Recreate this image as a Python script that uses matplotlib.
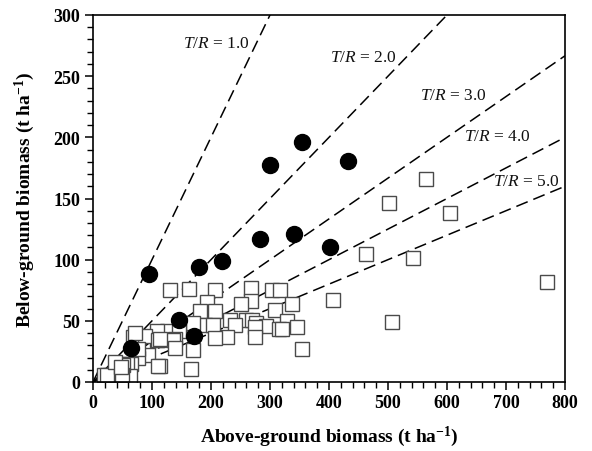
import matplotlib
matplotlib.use("Agg")
import matplotlib.pyplot as plt
import numpy as np
from matplotlib.ticker import MultipleLocator

plt.rcParams['font.family'] = ['Liberation Serif', 'DejaVu Serif']
plt.rcParams['mathtext.fontset'] = 'custom'
plt.rcParams['mathtext.rm'] = 'Liberation Serif'
plt.rcParams['mathtext.it'] = 'Liberation Serif:italic'
plt.rcParams['mathtext.bf'] = 'Liberation Serif:bold'

# Filled circles (above-ground, below-ground biomass)
circle_x = [65, 95, 145, 171, 180, 219, 283, 300, 340, 355, 402, 432]
circle_y = [28, 88, 51, 38, 94, 99, 117, 177, 121, 196, 110, 181]

# Open squares
square_x = [565, 502, 605, 463, 542, 406, 507, 770, 355,
            131, 163, 207, 267, 303, 317,
            267, 194, 250, 337, 309, 207, 181,
            232, 260, 269, 328, 189, 203, 170, 277, 294, 316, 241, 275, 125, 145, 108,
            227, 207, 275, 139, 108, 68, 88, 111, 136, 71, 114,
            170, 139, 94, 77, 77,
            65, 57, 40, 114, 166, 29, 18, 46, 63, 51, 23, 49, 37, 48, 111, 320, 345]
square_y = [166, 146, 138, 105, 101, 67, 49, 82, 27,
            75, 76, 75, 77, 75, 75,
            66, 65, 64, 64, 59, 58, 58,
            51, 51, 51, 50, 47, 47, 48, 48, 46, 43, 47, 45, 42, 42, 42,
            37, 36, 37, 35, 34, 37, 38, 34, 34, 40, 35,
            26, 28, 22, 20, 27,
            15, 15, 15, 13, 11, 6, 6, 11, 5, 14, 6, 6, 16, 12, 13, 43, 45]

# T/R reference lines
ratios = [1.0, 2.0, 3.0, 4.0, 5.0]
ratio_labels = ['1.0', '2.0', '3.0', '4.0', '5.0']
label_x = [266, 515, 668, 741, 791]
label_y = [277, 266, 235, 201, 164]

x_ticks = [0, 100, 200, 300, 400, 500, 600, 700, 800]
y_ticks = [0, 50, 100, 150, 200, 250, 300]

fig = plt.figure(figsize=(5.92, 4.52), dpi=100)
ax = fig.add_axes([93/592, 69/452, 472/592, 367/452])

xx = np.array([0, 800])
for r in ratios:
    ax.plot(xx, xx / r, color='black', lw=1.1, dashes=[8, 4], zorder=1)

ax.plot(square_x, square_y, linestyle='none', marker='s', ms=10.5,
        mfc='white', mec='#4a4a4a', mew=1.0, zorder=2)
ax.plot(circle_x, circle_y, linestyle='none', marker='o', ms=11.5,
        mfc='black', mec='black', zorder=3)

for lab, lx, ly in zip(ratio_labels, label_x, label_y):
    ax.text(lx, ly, r'$T/R$ = ' + lab, ha='right', va='center', fontsize=12.5,
            color='#111111', zorder=4)

ax.set_xlim(0, 800)
ax.set_ylim(0, 300)
ax.set_xticks(x_ticks)
ax.set_yticks(y_ticks)
ax.xaxis.set_minor_locator(MultipleLocator(20))
ax.yaxis.set_minor_locator(MultipleLocator(10))
ax.tick_params(which='major', direction='out', length=6, width=1.1,
               labelsize=13, pad=3)
ax.tick_params(which='minor', direction='out', length=4, width=1.0)
for lab in ax.get_xticklabels() + ax.get_yticklabels():
    lab.set_fontweight('bold')
for s in ax.spines.values():
    s.set_linewidth(1.2)

ax.set_xlabel(r'Above-ground biomass (t ha$^{\mathbf{-1}}$)', fontsize=14,
              fontweight='bold', labelpad=9)
ax.set_ylabel(r'Below-ground biomass (t ha$^{\mathbf{-1}}$)', fontsize=14,
              fontweight='bold', labelpad=12)

fig.savefig('out.png', dpi=100)
